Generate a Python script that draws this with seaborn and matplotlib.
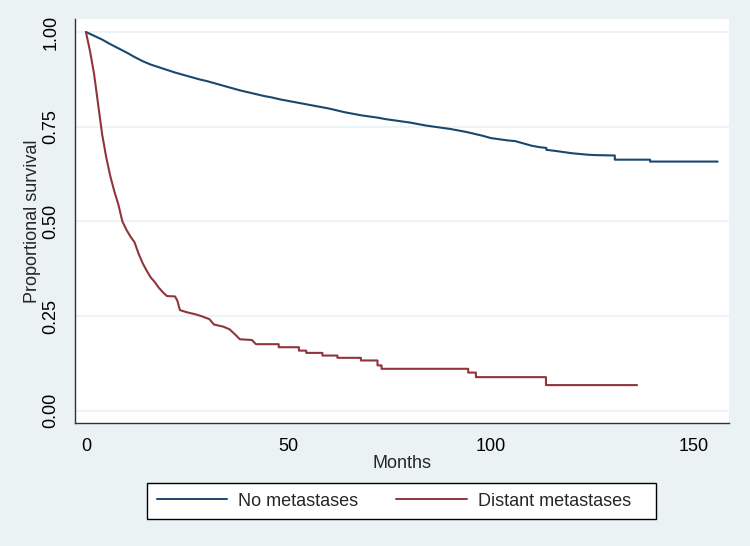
import numpy as np
import pandas as pd
import matplotlib
matplotlib.use("Agg")
import matplotlib.pyplot as plt
from matplotlib.patches import Rectangle
import seaborn as sns

# ---- data; vertices in drawing order, repeated month = a step drop ----
no_met_months = [0, 2, 4, 6, 8, 10, 12, 14, 16, 18, 20, 22, 24, 26, 28, 30, 32, 34, 36, 38,
                 40, 42, 44, 46, 48, 50, 52, 54, 56, 58, 60, 62, 64, 66, 68, 70, 72, 74, 76,
                 78, 80, 82, 84, 86, 88, 90, 92, 94, 96, 98, 100, 102, 104, 106, 108, 110,
                 112, 113.7, 113.7, 116, 118, 120, 122, 124, 126, 130.6, 130.6, 139.3, 139.3,
                 156]
no_met_surv = [1.000, 0.990, 0.980, 0.968, 0.957, 0.946, 0.934, 0.923, 0.914, 0.907, 0.900,
               0.893, 0.887, 0.881, 0.875, 0.870, 0.864, 0.858, 0.852, 0.846, 0.841, 0.836,
               0.831, 0.827, 0.822, 0.818, 0.814, 0.810, 0.806, 0.802, 0.798, 0.793, 0.788,
               0.784, 0.780, 0.777, 0.774, 0.770, 0.767, 0.764, 0.761, 0.757, 0.753, 0.750,
               0.747, 0.744, 0.740, 0.736, 0.731, 0.726, 0.720, 0.717, 0.714, 0.712, 0.706,
               0.700, 0.696, 0.694, 0.689, 0.686, 0.683, 0.680, 0.678, 0.676, 0.675, 0.674,
               0.663, 0.663, 0.658, 0.658]

dist_met_months = [0, 1, 2, 3, 4, 5, 6, 7, 8, 9, 10, 11, 12, 13, 14, 15, 16, 17, 18, 19, 20,
                   22, 22.6, 23.2, 25, 27, 28.5, 30.5, 31.6, 34, 35.5, 37, 38, 41, 41.6, 42,
                   47.6, 47.6, 52.6, 52.6, 54.4, 54.4, 58.4, 58.4, 62.1, 62.1, 67.9, 67.9,
                   72.0, 72.0, 73.0, 73.0, 94.4, 94.4, 96.3, 96.3, 113.6, 113.6, 136.1]
dist_met_surv = [1.000, 0.950, 0.890, 0.810, 0.730, 0.670, 0.620, 0.580, 0.545, 0.500, 0.478,
                 0.460, 0.445, 0.415, 0.390, 0.370, 0.352, 0.340, 0.325, 0.313, 0.303,
                 0.302, 0.290, 0.266, 0.260, 0.255, 0.250, 0.242, 0.228, 0.222, 0.215,
                 0.200, 0.189, 0.187, 0.180, 0.176, 0.176, 0.168, 0.168, 0.159, 0.159,
                 0.153, 0.153, 0.146, 0.146, 0.140, 0.140, 0.133, 0.133, 0.120, 0.120,
                 0.111, 0.111, 0.101, 0.101, 0.089, 0.089, 0.068, 0.068]

group_labels = ["No metastases", "Distant metastases"]
x_ticks = [0, 50, 100, 150]
y_ticks = [0.00, 0.25, 0.50, 0.75, 1.00]
x_label = "Months"
y_label = "Proportional survival"

# ---- build table (order kept) ----
df = pd.concat([
    pd.DataFrame({"Months": no_met_months, "Survival": no_met_surv, "Group": group_labels[0]}),
    pd.DataFrame({"Months": dist_met_months, "Survival": dist_met_surv, "Group": group_labels[1]}),
], ignore_index=True)

BG = "#EAF2F3"
palette = {group_labels[0]: "#1A476F", group_labels[1]: "#90353B"}

sns.set_style("white")
plt.rcParams["font.family"] = ["Liberation Sans", "DejaVu Sans"]

fig = plt.figure(figsize=(7.5, 5.46), dpi=100, facecolor=BG)
ax = fig.add_axes([0.1, 0.2253, 0.872, 0.7397])
ax.set_facecolor("white")

sns.lineplot(data=df, x="Months", y="Survival", hue="Group", palette=palette,
             estimator=None, sort=False, linewidth=1.5, legend=False, ax=ax)

ax.set_xlim(-2.7, 158.8)
ax.set_ylim(-0.032, 1.034)
ax.set_xticks(x_ticks)
ax.set_yticks(y_ticks)
ax.set_yticklabels([f"{v:.2f}" for v in y_ticks], rotation=90, va="center")
ax.set_xticklabels([str(v) for v in x_ticks])
ax.tick_params(axis="both", direction="out", length=7, width=1, color="#333333",
               labelsize=13, labelcolor="black", pad=4)
ax.grid(axis="y", color=BG, linewidth=1.2)
ax.grid(axis="x", visible=False)
ax.set_axisbelow(True)
for side in ["top", "right"]:
    ax.spines[side].set_visible(False)
for side in ["left", "bottom"]:
    ax.spines[side].set_color("#333333")
    ax.spines[side].set_linewidth(1.0)

ax.set_xlabel(x_label, fontsize=13, labelpad=0)
ax.set_ylabel(y_label, fontsize=13, labelpad=1)

# legend frame (Stata style: box below the plot)
fig.patches.append(Rectangle((147 / 750, 1 - 519 / 546), (656 - 147) / 750, 36 / 546,
                             transform=fig.transFigure, facecolor="white",
                             edgecolor="black", linewidth=1.0, zorder=0))
handles = [plt.Line2D([], [], color=palette[g], linewidth=1.4) for g in group_labels]
leg = fig.legend(handles, group_labels, loc="center left",
                 bbox_to_anchor=(157 / 750, 1 - 501 / 546), borderaxespad=0, borderpad=0,
                 ncol=2, frameon=False, fontsize=13, handlelength=3.9, handletextpad=0.6,
                 columnspacing=2.1)

fig.savefig("out.png", dpi=100, facecolor=BG)
